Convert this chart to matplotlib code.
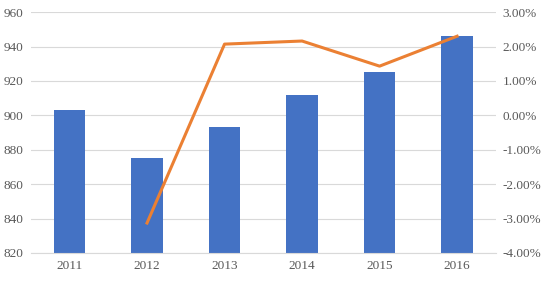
import matplotlib.pyplot as plt
from matplotlib.ticker import FuncFormatter

years = ["2011", "2012", "2013", "2014", "2015", "2016"]
output = [903, 875, 893, 912, 925, 946]
growth_years = ["2012", "2013", "2014", "2015", "2016"]
growth = [-3.13, 2.07, 2.16, 1.43, 2.30]

plt.rcParams['font.family'] = ['Liberation Serif', 'DejaVu Serif']

fig = plt.figure(figsize=(5.44, 2.82), dpi=100)
ax = fig.add_axes([0.0565, 0.103, 0.855, 0.854])

x = list(range(len(years)))
ax.bar(x, output, width=0.41, color="#4472C4", zorder=2)
ax.set_ylim(820, 960)
ax.set_yticks(range(820, 961, 20))
ax.set_xlim(-0.5, len(years) - 0.5)
ax.set_xticks(x)
ax.set_xticklabels(years)
ax.grid(axis="y", color="#D9D9D9", linewidth=0.8, zorder=0)
for s in ["top", "left", "right"]:
    ax.spines[s].set_visible(False)
ax.spines["bottom"].set_color("#D9D9D9")
ax.tick_params(length=0, labelsize=9.5, labelcolor="#595959")
ax.tick_params(axis="y", pad=5)
ax.tick_params(axis="x", pad=5)

ax2 = ax.twinx()
gx = [years.index(y) for y in growth_years]
ax2.plot(gx, growth, color="#EB8033", linewidth=2.2, zorder=3)
ax2.set_ylim(-4, 3)
ax2.set_yticks(range(-4, 4))
ax2.yaxis.set_major_formatter(FuncFormatter(lambda v, p: f"{v:.2f}%"))
for s in ["top", "left", "right", "bottom"]:
    ax2.spines[s].set_visible(False)
ax2.tick_params(length=0, labelsize=9.5, labelcolor="#595959", pad=5)

fig.savefig("out.png", dpi=100)
